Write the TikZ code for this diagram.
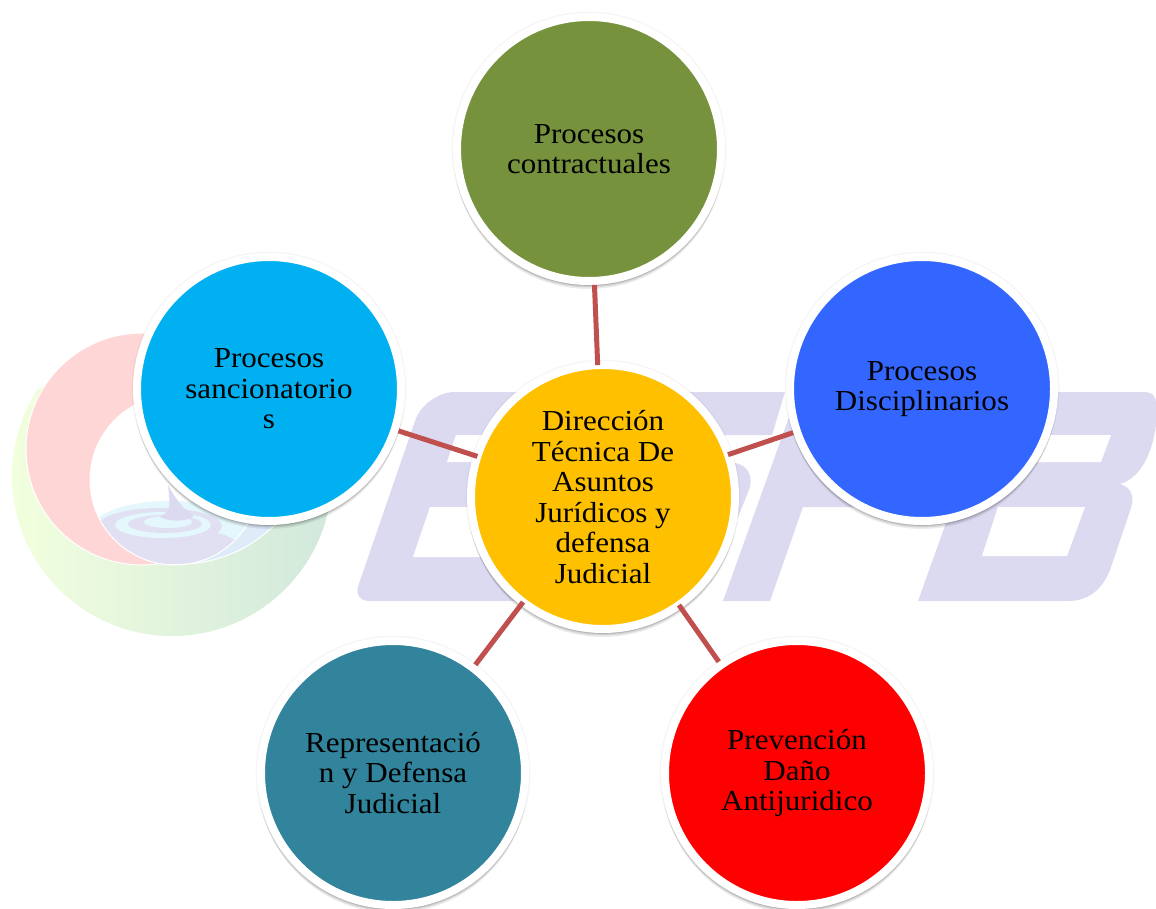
\documentclass[tikz,border=0pt]{standalone}
\usepackage{fontspec}
\setmainfont[FakeStretch=1.07]{Liberation Serif}
\usepackage{xcolor}
\usetikzlibrary{shadows}
\definecolor{linkred}{RGB}{192, 80, 77}
\definecolor{markcolor}{RGB}{220, 218, 241}
\definecolor{pinkcolor}{RGB}{255, 214, 214}
\definecolor{waterblue}{RGB}{222, 236, 250}
\definecolor{watercyan}{RGB}{228, 247, 252}
\definecolor{ringleft}{RGB}{242, 255, 222}
\definecolor{ringmid}{RGB}{226, 250, 220}
\definecolor{ringright}{RGB}{209, 232, 220}
\definecolor{centercolor}{RGB}{255, 192, 0}
\definecolor{contractcolor}{RGB}{118, 146, 60}
\definecolor{disciplinecolor}{RGB}{51, 102, 255}
\definecolor{sanctioncolor}{RGB}{0, 176, 240}
\definecolor{defensecolor}{RGB}{49, 132, 155}
\definecolor{preventcolor}{RGB}{255, 0, 0}

\begin{document}
\begin{tikzpicture}[
    x=1pt, y=-1pt,
    bubble/.style={circle, draw=white, line width=8pt, minimum size=264pt, inner sep=0pt, align=center,
        font=\fontsize{29}{30.5}\selectfont, text=black,
        general shadow={shadow scale=1.04, opacity=.04, fill=black},
        general shadow={shadow yshift=-4.5pt, shadow scale=1.025, opacity=.08, fill=black},
        general shadow={shadow yshift=-3pt, shadow scale=1.025, opacity=.1, fill=black},
        general shadow={shadow yshift=-1.5pt, shadow scale=1.025, opacity=.12, fill=black}},
    link/.style={line width=5pt, linkred},
    letterfill/.style={fill=markcolor},
    hole/.style={fill=white}
]
    \useasboundingbox (0,0) rectangle (1156,909);

    % Watermark - ring logo
    \begin{scope}
        \clip (0,412) -- (45,385) -- (125,345) -- (400,345) -- (400,700) -- (0,700) -- cycle;
        \shade[left color=ringleft, middle color=ringmid, right color=ringright] (172,476) circle (160);
        \fill[waterblue, draw=white, line width=1pt] (180,430) circle (134);
    \end{scope}
    \fill[pinkcolor, draw=white, line width=1pt] (142,449) circle (116);
    \fill[white] (175,480) circle (85);
    \begin{scope}
        \clip (175,480) circle (85);
        \fill[watercyan] (170,527) ellipse (76 and 26);
        \fill[markcolor!85!white] (172,546) ellipse (66 and 18);
        \fill[markcolor!85!white] (160,526) ellipse (62 and 18);
        \fill[watercyan] (163,525) ellipse (48 and 13);
        \fill[markcolor!85!white] (165,524) ellipse (37 and 9);
        \fill[watercyan] (168,522) ellipse (24 and 6);
    \end{scope}
    \fill[markcolor] (168,485) .. controls (170,505) and (172,510) .. (160,517)
        .. controls (170,522) and (186,522) .. (194,516)
        .. controls (184,510) and (176,500) .. (168,485);
    \draw[white, line width=1pt] (175,480) circle (85);

    % Watermark - letters
    \fill[letterfill] (600,601) [rounded corners=16pt] -- (353,601) [rounded corners=30pt] -- (425,392) [sharp corners] -- (785,392) -- (772,435) -- (600,435) -- cycle;
    \fill[letterfill] (600,463) -- (735,463) .. controls (750,466) and (753,478) .. (749,490) -- (738,517) -- (600,517) -- cycle;
    \fill[letterfill] (723,601) -- (770,601) -- (803,507) -- (920,507) -- (960,392) -- (798,392) -- cycle;
    \fill[letterfill] (918,601) -- (993,392) -- (1142,392) .. controls (1153,392) and (1156,396) .. (1156,404)
        -- (1156,425) .. controls (1152,455) and (1140,478) .. (1120,484)
        .. controls (1130,487) and (1135,495) .. (1131,508) -- (1110,570)
        .. controls (1102,590) and (1088,601) .. (1068,601) -- cycle;
    % Watermark - counters
    \fill[hole] (447,462) -- (456,435) -- (560,435) -- (550,462) -- cycle;
    \fill[hole] (413,557) -- (430,507) -- (530,507) -- (515,557) -- cycle;
    \fill[hole] (1030,462) -- (1040,435) -- (1111,435) -- (1101,462) -- cycle;
    \fill[hole] (982,556) -- (998,507) -- (1085,507) -- (1067,556) -- cycle;

    % Nodes - center and outer ring
    \node[bubble, fill=centercolor] (direccion) at (603,497) {Dirección\\Técnica De\\Asuntos\\Jurídicos y\\defensa\\Judicial};
    \node[bubble, fill=contractcolor] (contractuales) at (589,149) {Procesos\\contractuales};
    \node[bubble, fill=disciplinecolor] (disciplinarios) at (922,389) {Procesos\\Disciplinarios};
    \node[bubble, fill=sanctioncolor] (sancionatorios) at (269,389) {Procesos\\sancionatorio\\s};
    \node[bubble, fill=defensecolor] (representacion) at (393,773) {Representació\\n y Defensa\\Judicial};
    \node[bubble, fill=preventcolor] (prevencion) at (797,773) {Prevención\\Daño\\Antijuridico};

    % Connectors
    \draw[link, shorten <=-4pt] (direccion) -- (contractuales);
    \draw[link, shorten <=-4pt] (direccion) -- (disciplinarios);
    \draw[link, shorten <=-4pt] (direccion) -- (sancionatorios);
    \draw[link, shorten <=-4pt] (direccion) -- (representacion);
    \draw[link, shorten <=-4pt] (direccion) -- (prevencion);
\end{tikzpicture}
\end{document}
